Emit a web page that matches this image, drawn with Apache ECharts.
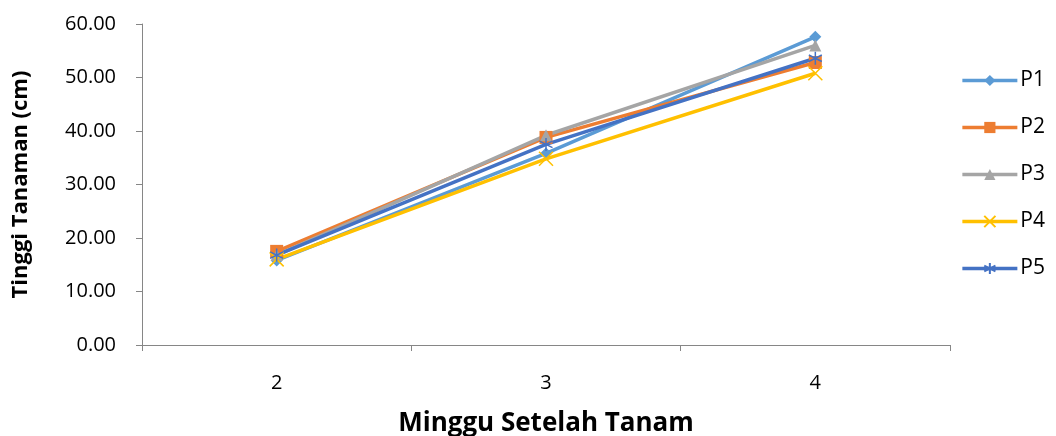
<!DOCTYPE html>
<html><head><meta charset="utf-8">
<script src="https://cdn.jsdelivr.net/npm/echarts@6/dist/echarts.min.js"></script>
<style>html,body{margin:0;padding:0;background:#fff}#c{width:1056px;height:436px}</style>
</head><body><div id="c"></div>
<script>
const categories = ['2', '3', '4'];
const P1 = [15.8, 35.8, 57.6];
const P2 = [17.5, 38.8, 52.8];
const P3 = [16.8, 39.2, 56.0];
const P4 = [16.0, 34.8, 50.8];
const P5 = [16.8, 37.5, 53.6];
const seriesNames = ['P1', 'P2', 'P3', 'P4', 'P5'];
const yTicks = [0, 10, 20, 30, 40, 50, 60];

const colors = ['#5B9BD5', '#ED7D31', '#A5A5A5', '#FFC000', '#4472C4'];
const symbols = ['diamond', 'rect', 'triangle',
  'path://M0,0L10,10M10,0L0,10',
  'path://M5,0L5,10M0.7,2.5L9.3,7.5M0.7,7.5L9.3,2.5'];
const sizes = [12, 13, 12, 14, 13];
const dataArr = [P1, P2, P3, P4, P5];
const font = '"Open Sans", "Liberation Sans", sans-serif';

const chart = echarts.init(document.getElementById('c'));
chart.setOption({
  animation: false,
  color: colors,
  grid: {left: 142, right: 106, top: 24, bottom: 91, outerBoundsMode: 'none', containLabel: false},
  legend: {
    orient: 'vertical', right: 6, top: 65,
    itemWidth: 55, itemHeight: 14, itemGap: 26,
    lineStyle: {width: 3.5},
    textStyle: {fontFamily: font, fontSize: 21, color: '#000', padding: [0,0,0,-2]},
    data: seriesNames
  },
  xAxis: {
    type: 'category', data: categories, boundaryGap: true,
    name: 'Minggu Setelah Tanam', nameLocation: 'middle', nameGap: 66,
    nameTextStyle: {fontFamily: font, fontSize: 26, fontWeight: 'bold', color: '#000'},
    axisLine: {lineStyle: {color: '#868686', width: 1}},
    axisTick: {show: true, length: 6, lineStyle: {color: '#868686'}},
    axisLabel: {fontFamily: font, fontSize: 20, color: '#000', margin: 28}
  },
  yAxis: {
    type: 'value', min: 0, max: 60, interval: 10,
    name: 'Tinggi Tanaman (cm)', nameLocation: 'middle', nameGap: 110,
    nameTextStyle: {fontFamily: font, fontSize: 22, fontWeight: 'bold', color: '#000'},
    axisLine: {show: true, lineStyle: {color: '#868686', width: 1}},
    axisTick: {show: true, length: 6, lineStyle: {color: '#868686'}},
    splitLine: {show: false},
    axisLabel: {fontFamily: font, fontSize: 20, color: '#000', margin: 26,
      formatter: v => yTicks.includes(v) ? v.toFixed(2) : ''}
  },
  series: seriesNames.map((n, i) => ({
    name: n, type: 'line', data: dataArr[i],
    symbol: symbols[i], symbolSize: sizes[i], showAllSymbol: true,
    lineStyle: {width: 3.5, color: colors[i]},
    itemStyle: {color: colors[i], borderColor: colors[i], borderWidth: i >= 3 ? 1.5 : 0}
  }))
});
</script></body></html>
